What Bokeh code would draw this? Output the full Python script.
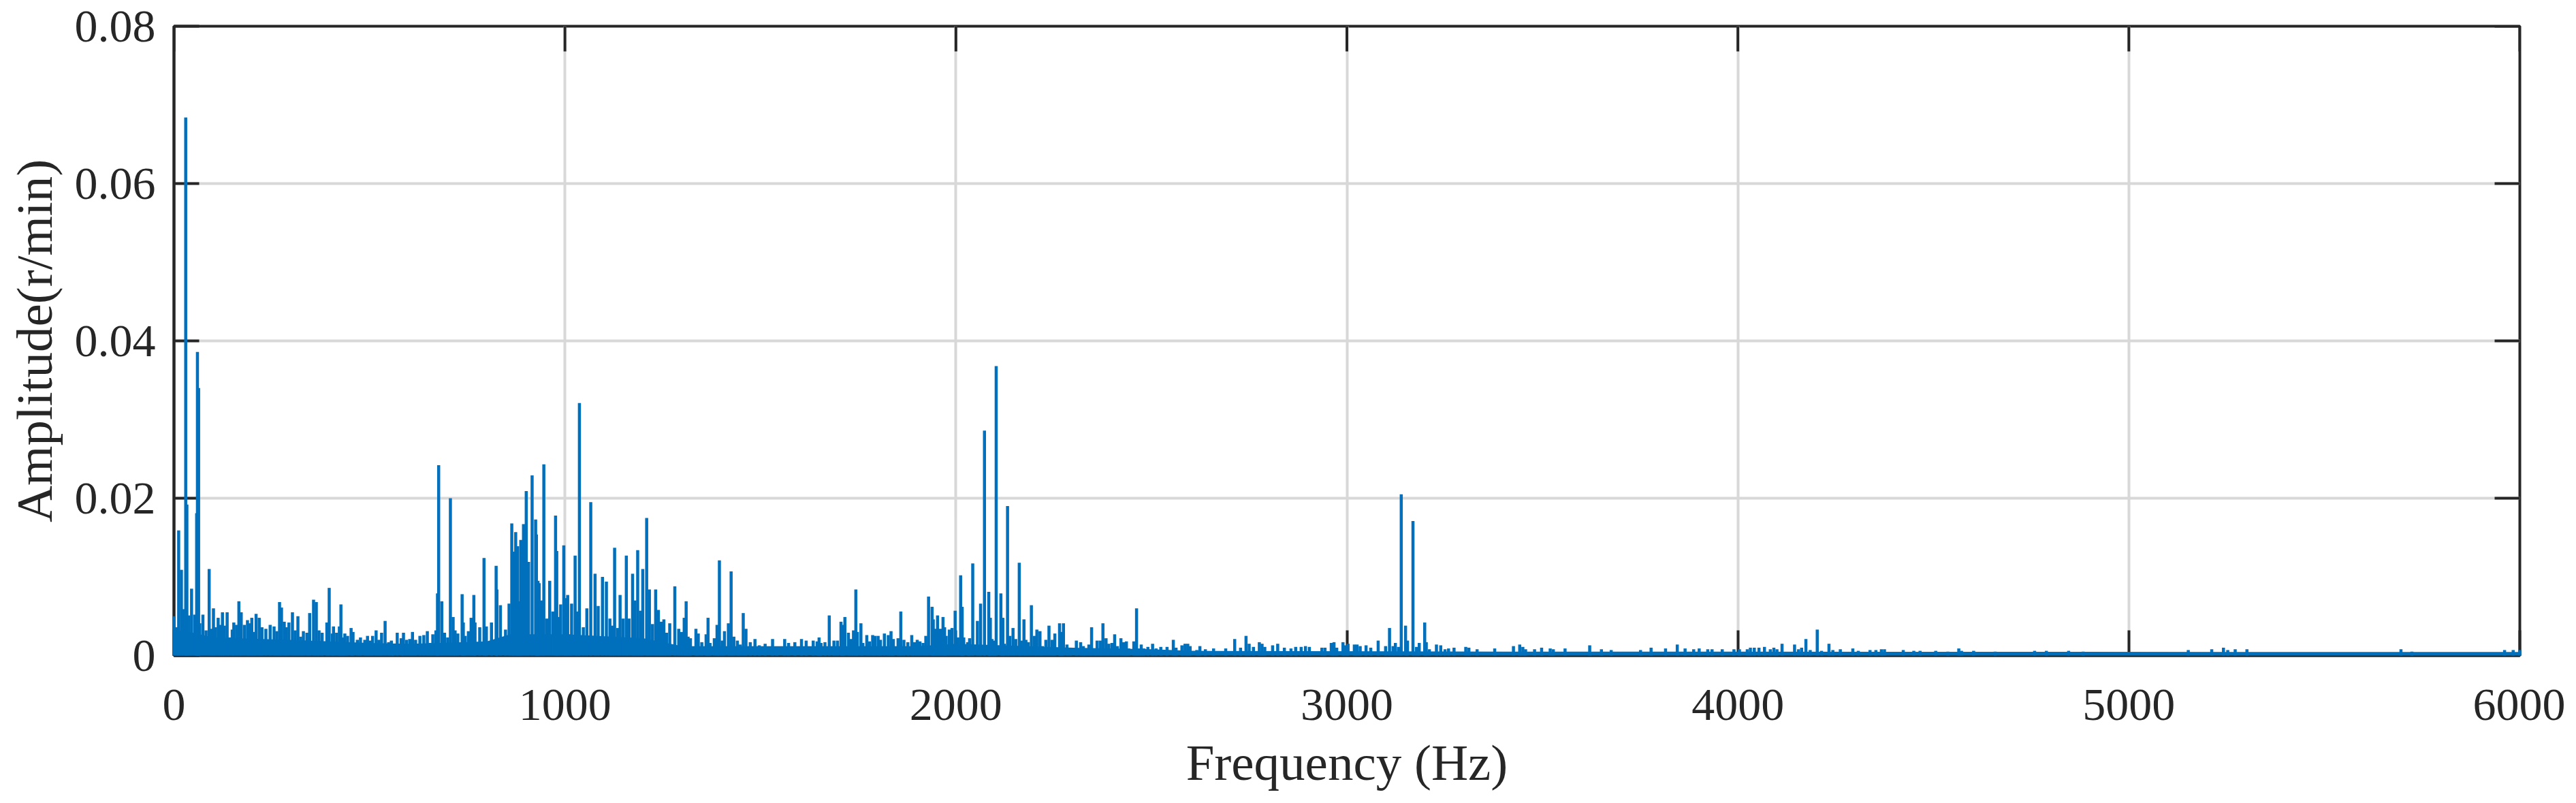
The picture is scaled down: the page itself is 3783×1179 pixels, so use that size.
from math import pi

from bokeh.embed import file_html
from bokeh.models import ColumnDataSource, FixedTicker, Range1d
from bokeh.plotting import figure
from bokeh.resources import INLINE

x_ticks = [0, 1000, 2000, 3000, 4000, 5000, 6000]
y_ticks = [0, 0.02, 0.04, 0.06, 0.08]
y_tick_labels = ["0", "0.02", "0.04", "0.06", "0.08"]
x_title = "Frequency (Hz)"
y_title = "Amplitude(r/min)"

# (frequency in Hz, amplitude in 1e-4 r/min), band by band
band_0_770 = [(0,50),(7,36),(12,159),(19,109),(24,59),(30,684),(33,192),(38,51),(45,85),(53,52),(58,181),(60,386),(63,340),(66,41),(74,52),(82,32),(90,110),(96,34),(101,60),(106,36),(113,48),(118,39),(124,55),(129,38),(136,55),(142,23),(149,33),(153,42),(160,39),(166,69),(172,55),(180,39),(188,45),(193,41),(199,48),(204,30),(210,53),(218,48),(225,36),(235,34),(246,39),(256,37),(263,31),(270,68),(275,61),(282,43),(287,36),(294,42),(303,55),(310,32),(317,50),(324,24),(331,31),(340,29),(347,54),(357,71),(364,68),(371,32),(379,29),(391,42),(397,86),(405,28),(408,37),(416,29),(423,37),(427,65),(433,23),(437,28),(444,25),(453,35),(458,30),(469,20),(477,23),(488,20),(495,25),(502,19),(508,25),(517,32),(524,20),(531,29),(540,44),(549,17),(556,19),(562,15),(571,29),(581,22),(587,29),(595,20),(603,21),(610,30),(618,20),(629,25),(639,26),(648,31),(655,16),(662,27),(670,32),(674,79),(677,242),(685,69),(692,29),(700,23),(707,200),(714,49),(719,32),(726,28),(737,78),(740,42),(745,25),(753,31),(760,48),(767,77),(770,42)]
band_770_1650 = [(782,36),(793,124),(799,37),(812,42),(824,114),(826,84),(835,64),(848,33),(857,66),(864,168),(868,132),(874,157),(879,139),(882,69),(887,147),(894,167),(901,209),(907,119),(916,229),(925,173),(927,154),(931,95),(934,92),(940,70),(946,243),(954,47),(961,95),(969,56),(976,178),(979,133),(983,49),(989,65),(997,140),(1002,73),(1007,77),(1013,27),(1017,66),(1026,127),(1032,56),(1037,321),(1047,36),(1056,60),(1066,195),(1077,104),(1085,63),(1096,100),(1106,94),(1115,47),(1121,38),(1127,137),(1135,35),(1141,77),(1149,47),(1157,127),(1164,47),(1173,104),(1179,70),(1186,134),(1193,57),(1199,110),(1209,175),(1216,84),(1224,40),(1232,84),(1239,58),(1246,43),(1253,46),(1260,29),(1268,41),(1281,88),(1291,34),(1298,30),(1305,48),(1310,69),(1315,24),(1321,22),(1335,34),(1341,28),(1350,17),(1361,27),(1366,48),(1371,16),(1382,22),(1389,39),(1395,121),(1402,19),(1408,31),(1418,41),(1425,107),(1432,24),(1441,19),(1448,14),(1456,54),(1463,34),(1474,17),(1486,21),(1497,13),(1512,15),(1531,21),(1542,11),(1562,21),(1572,16),(1588,17),(1605,21),(1617,19),(1635,19),(1645,18)]
band_1650_2520 = [(1650,23),(1655,16),(1665,17),(1676,51),(1688,19),(1697,19),(1706,43),(1710,39),(1716,49),(1725,29),(1732,21),(1738,32),(1744,84),(1748,30),(1757,41),(1762,16),(1772,26),(1779,18),(1787,26),(1793,25),(1801,25),(1807,20),(1817,28),(1827,26),(1834,31),(1840,21),(1852,22),(1859,56),(1867,20),(1877,17),(1887,26),(1894,17),(1901,20),(1908,18),(1916,16),(1923,25),(1930,75),(1939,62),(1942,46),(1948,34),(1953,51),(1960,34),(1967,49),(1971,36),(1975,25),(1983,33),(1990,35),(1998,57),(2005,23),(2012,102),(2016,62),(2020,23),(2030,17),(2035,22),(2043,117),(2055,44),(2063,66),(2073,286),(2084,81),(2088,48),(2092,21),(2098,19),(2103,368),(2115,79),(2120,48),(2124,15),(2132,190),(2138,25),(2146,35),(2153,21),(2162,118),(2167,19),(2174,46),(2179,20),(2185,17),(2193,64),(2201,25),(2207,33),(2215,31),(2221,12),(2230,20),(2238,38),(2246,20),(2253,28),(2265,41),(2269,30),(2275,41),(2284,14),(2293,9),(2308,19),(2319,17),(2326,12),(2332,9),(2340,14),(2347,36),(2355,9),(2361,19),(2369,19),(2376,41),(2384,22),(2391,15),(2399,16),(2406,27),(2413,12),(2422,22),(2429,17),(2436,18),(2442,9),(2455,18),(2462,60),(2467,9),(2474,14),(2481,9),(2491,11),(2503,15),(2512,9)]
band_2520_3400 = [(2524,11),(2540,11),(2556,20),(2563,10),(2578,13),(2586,15),(2593,15),(2599,12),(2616,7),(2624,12),(2638,8),(2659,9),(2690,9),(2713,21),(2728,10),(2742,25),(2750,15),(2761,11),(2776,17),(2783,15),(2790,11),(2810,13),(2823,15),(2840,10),(2857,9),(2869,11),(2883,11),(2894,12),(2904,11),(2936,10),(2944,10),(2960,16),(2967,17),(2974,10),(2990,17),(2997,13),(3003,15),(3019,14),(3026,14),(3034,12),(3049,13),(3061,10),(3080,19),(3099,12),(3109,35),(3118,12),(3124,16),(3132,11),(3139,205),(3150,38),(3155,19),(3169,171),(3178,11),(3185,16),(3199,42),(3203,17),(3211,8),(3229,14),(3240,13),(3251,8),(3260,9),(3274,10),(3304,11),(3312,10),(3333,8),(3378,9)]
band_3400_6000 = [(3426,12),(3442,14),(3450,11),(3457,8),(3480,8),(3498,10),(3520,9),(3528,8),(3558,9),(3621,13),(3651,8),(3676,7),(3751,7),(3778,10),(3815,9),(3845,14),(3865,9),(3887,8),(3901,9),(3923,8),(3934,8),(3960,8),(3990,8),(4004,8),(4024,8),(4032,10),(4042,10),(4054,10),(4068,11),(4083,8),(4092,10),(4100,8),(4113,15),(4145,14),(4155,8),(4163,10),(4174,21),(4185,7),(4203,33),(4214,6),(4233,15),(4243,7),(4262,8),(4294,9),(4308,6),(4338,7),(4353,7),(4367,8),(4375,8),(4423,7),(4450,6),(4466,6),(4506,6),(4537,5),(4565,9),(4572,6),(4603,6),(4658,5),(4759,6),(4789,6),(4846,6),(4883,5),(5152,7),(5212,8),(5242,10),(5253,7),(5272,8),(5302,8),(5696,8),(5724,5),(5961,7),(5983,7),(6000,7)]

# level of the solid mass below the spikes
floor_freq = [0, 40, 100, 300, 500, 600, 680, 800, 860, 1000, 1200, 1300, 1500, 1900, 2000, 2300, 2500, 2600, 3400, 6000]
floor_amp = [0.0032, 0.0030, 0.0023, 0.0020, 0.0016, 0.0015, 0.0016, 0.0018, 0.0027, 0.0027, 0.0022, 0.0012, 0.0012, 0.0012, 0.0015, 0.0010, 0.0008, 0.0006, 0.0005, 0.00045]

pairs = band_0_770 + band_770_1650 + band_1650_2520 + band_2520_3400 + band_3400_6000
src = ColumnDataSource(dict(f=[p[0] for p in pairs], a=[p[1] * 1e-4 for p in pairs], z=[0] * len(pairs)))

INK = "#262626"
BLUE = "#0070BD"
FONT = "Liberation Serif"
TICK_LEN = 37

p = figure(width=3767, height=1163, output_backend="svg", toolbar_location=None,
           x_range=Range1d(0, 6000), y_range=Range1d(0, 0.08),
           min_border_left=255, min_border_right=67, min_border_top=38, min_border_bottom=196,
           x_axis_label=x_title, y_axis_label=y_title, background_fill_color="white",
           outline_line_color=INK, outline_line_width=4)

p.xgrid.ticker = FixedTicker(ticks=x_ticks)
p.ygrid.ticker = FixedTicker(ticks=y_ticks)
for g in (p.xgrid, p.ygrid):
    g.grid_line_color = "#d8d8d8"
    g.grid_line_width = 4

# inward ticks along the top and right edges of the box
p.ray(x=x_ticks, y=[y_ticks[-1]] * len(x_ticks), length=TICK_LEN, length_units="screen",
      angle=-pi / 2, line_color=INK, line_width=4)
p.ray(x=[x_ticks[-1]] * len(y_ticks), y=y_ticks, length=TICK_LEN, length_units="screen",
      angle=pi, line_color=INK, line_width=4)

p.varea(x=floor_freq, y1=[0] * len(floor_freq), y2=floor_amp, fill_color=BLUE, level="overlay")
p.segment("f", "z", "f", "a", source=src, line_color=BLUE, line_width=4.5, line_cap="butt", level="overlay")

for ax in p.xaxis + p.yaxis:
    ax.axis_line_color = INK
    ax.axis_line_width = 4
    ax.major_tick_line_color = INK
    ax.major_tick_line_width = 4
    ax.major_tick_in = TICK_LEN
    ax.major_tick_out = 0
    ax.minor_tick_line_color = None
    ax.major_label_text_font = FONT
    ax.major_label_text_color = INK
    ax.major_label_text_font_size = "68px"
    ax.axis_label_text_font = FONT
    ax.axis_label_text_color = INK
    ax.axis_label_text_font_size = "75px"
    ax.axis_label_text_font_style = "normal"

p.xaxis[0].ticker = FixedTicker(ticks=x_ticks)
p.yaxis[0].ticker = FixedTicker(ticks=y_ticks)
p.yaxis[0].major_label_overrides = {t: s for t, s in zip(y_ticks, y_tick_labels)}

p.below[0].major_label_standoff = 50
p.below[0].axis_label_standoff = 18
p.left[0].major_label_standoff = 27
p.left[0].axis_label_standoff = 15

open("out.html", "w").write(file_html(p, INLINE))
